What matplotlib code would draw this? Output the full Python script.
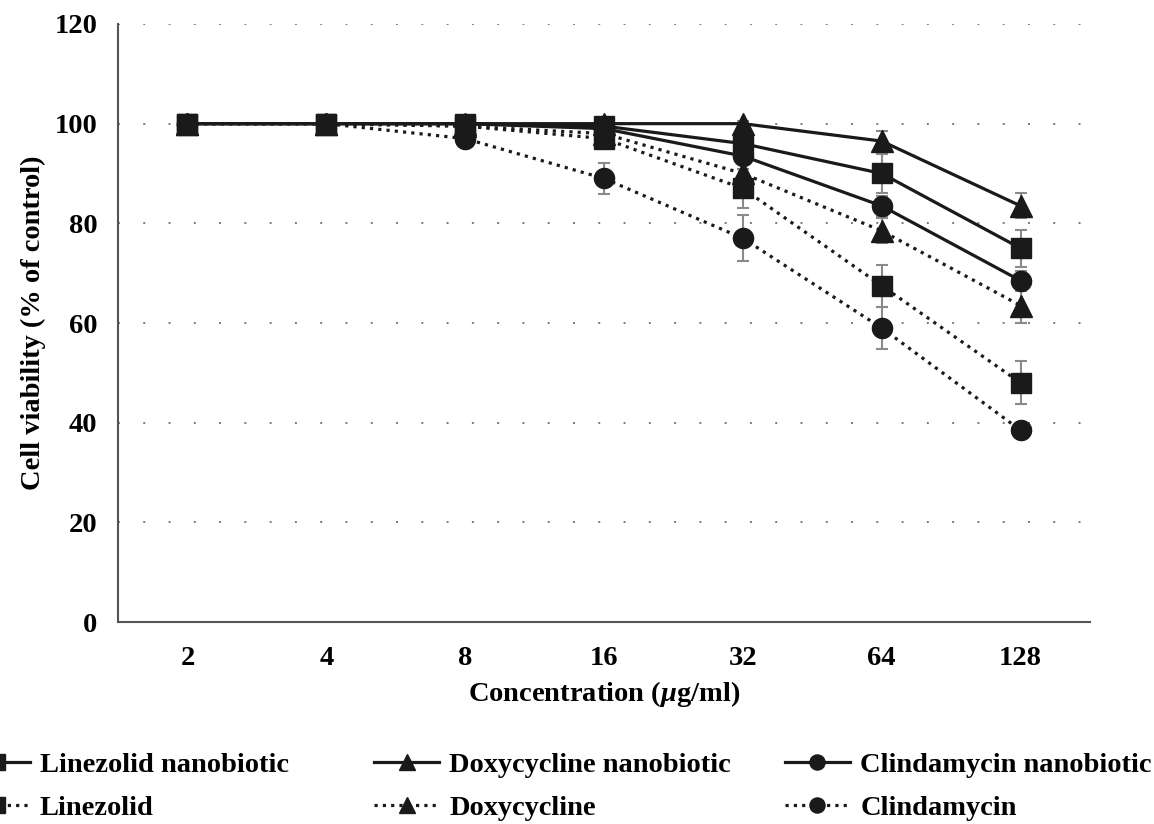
import numpy as np
import matplotlib
matplotlib.use("Agg")
import matplotlib.pyplot as plt

plt.rcParams['font.family'] = ['Liberation Serif', 'DejaVu Serif']
plt.rcParams['font.weight'] = 'bold'
plt.rcParams['axes.labelweight'] = 'bold'
plt.rcParams['mathtext.fontset'] = 'custom'
plt.rcParams['mathtext.it'] = 'Liberation Serif:italic:bold'
plt.rcParams['mathtext.rm'] = 'Liberation Serif:bold'

# 浓度（类别轴）
concentrations = ['2', '4', '8', '16', '32', '64', '128']

# 细胞存活率 (% of control)
linezolid_nano = [100, 100, 100, 99.5, 96, 90, 75]
doxy_nano = [100, 100, 100, 100, 100, 96.5, 83.5]
clinda_nano = [100, 100, 100, 99, 93.5, 83.5, 68.5]
linezolid = [100, 100, 99.5, 97, 87, 67.5, 48]
doxy = [100, 100, 99.5, 98, 90, 78.5, 63.5]
clinda = [100, 100, 97, 89, 77, 59, 38.5]

# 误差
linezolid_nano_err = [0, 0, 0.5, 0.5, 1, 4, 3.7]
doxy_nano_err = [0, 0, 0, 0.5, 0.5, 2, 2.5]
clinda_nano_err = [0, 0, 0.5, 0.5, 1, 2, 2]
linezolid_err = [0, 0, 0.5, 1, 4, 4.2, 4.3]
doxy_err = [0, 0, 0.5, 1, 2, 2.5, 3.5]
clinda_err = [0, 0, 1, 3.2, 4.6, 4.3, 1]

series = [
    ('Linezolid nanobiotic', linezolid_nano, linezolid_nano_err, 's', '-'),
    ('Linezolid', linezolid, linezolid_err, 's', 'dot'),
    ('Doxycycline nanobiotic', doxy_nano, doxy_nano_err, '^', '-'),
    ('Doxycycline', doxy, doxy_err, '^', 'dot'),
    ('Clindamycin nanobiotic', clinda_nano, clinda_nano_err, 'o', '-'),
    ('Clindamycin', clinda, clinda_err, 'o', 'dot'),
]

fig = plt.figure(figsize=(11.54, 8.24), dpi=100)
ax = fig.add_axes([0.1023, 0.2451, 0.8422, 0.7258])

x = np.arange(len(concentrations))
handles = []
for name, vals, err, mk, ls in series:
    style = '-' if ls == '-' else (0, (1, 1.6))
    ax.errorbar(x, vals, yerr=err, fmt='none', ecolor='#8a8a8a',
                elinewidth=1.5, capsize=4.5, capthick=1.5, zorder=2)
    ms = 15.5 if mk == '^' else 14.5
    line, = ax.plot(x, vals, color='#1a1a1a', linestyle=style, linewidth=2.3,
                    marker=mk, markersize=ms, markerfacecolor='#1a1a1a',
                    markeredgecolor='#1a1a1a', label=name, zorder=3)
    handles.append(line)

ax.set_xlim(-0.5, 6.5)
ax.set_ylim(0, 120)
ax.set_yticks(np.arange(0, 121, 20))
ax.set_xticks(x)
ax.set_xticklabels(concentrations)
ax.tick_params(length=0, labelsize=20.5, pad=17)
ax.tick_params(axis='y', pad=15)
ax.yaxis.grid(True, color='#7a7a7a', linestyle=(0, (1, 12)), linewidth=1.4)
ax.set_axisbelow(True)
for s in ['top', 'right']:
    ax.spines[s].set_visible(False)
for s in ['left', 'bottom']:
    ax.spines[s].set_color('#555555')
    ax.spines[s].set_linewidth(1.5)

ax.set_xlabel(r'Concentration ($\mu$g/ml)', fontsize=20.5, labelpad=6)
ax.set_ylabel('Cell viability (% of control)', fontsize=20.5, labelpad=6)

# 图例：三列固定间距，每列一个图例
col_x = [-0.031, 0.324, 0.680]
for i, cx in enumerate(col_x):
    fig.legend(handles=handles[2 * i:2 * i + 2], loc='upper left',
               bbox_to_anchor=(cx, 0.0875), frameon=False, fontsize=20.5,
               markerscale=0.75, handlelength=2.3, handletextpad=0.35,
               labelspacing=0.62, borderpad=0, borderaxespad=0)

fig.savefig('out.png', dpi=100)
